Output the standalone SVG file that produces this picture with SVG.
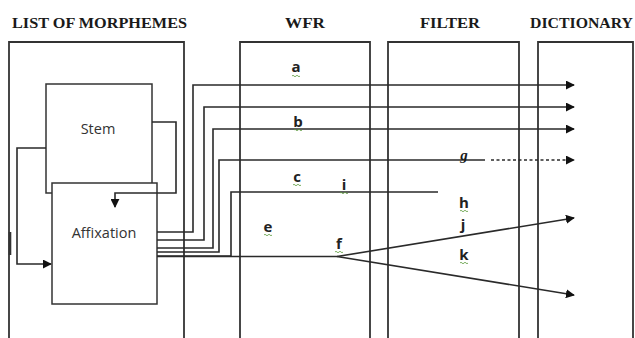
<svg xmlns="http://www.w3.org/2000/svg" width="635" height="338" viewBox="0 0 635 338">
<style>
.hdr{font-family:"Liberation Serif","Times New Roman",serif;font-weight:bold;font-size:15px;fill:#1a1a1a}
.box{fill:none;stroke:#333;stroke-width:1.8}
.wbox{fill:#fff;stroke:#333;stroke-width:1.5}
.nt{font-family:"Open Sans","Liberation Sans",sans-serif;font-size:14.5px;fill:#333}
.lb{font-family:"Open Sans","Liberation Sans",sans-serif;font-size:15px;font-weight:bold;fill:#222}
.ln{fill:none;stroke:#2a2a2a;stroke-width:1.6}
.dash{fill:none;stroke:#2a2a2a;stroke-width:1.6;stroke-dasharray:3,2.5}
.sq{fill:none;stroke:#5a9a3a;stroke-width:0.8}
</style>
<defs>
<marker id="ah" viewBox="0 0 10 10" refX="9" refY="5" markerWidth="9" markerHeight="9" markerUnits="userSpaceOnUse" orient="auto">
<path d="M0,0 L10,5 L0,10 z" fill="#111"/>
</marker>
<path id="squig" d="M-4,0 q1,-1.5 2,0 t2,0 t2,0 t2,0" class="sq"/>
</defs>

<g id="headers">
<text class="hdr" x="12" y="27.5" textLength="175" lengthAdjust="spacingAndGlyphs">LIST OF MORPHEMES</text>
<text class="hdr" x="285" y="27.5" textLength="40" lengthAdjust="spacingAndGlyphs">WFR</text>
<text class="hdr" x="420" y="27.5" textLength="60" lengthAdjust="spacingAndGlyphs">FILTER</text>
<text class="hdr" x="530" y="27.5" textLength="103" lengthAdjust="spacingAndGlyphs">DICTIONARY</text>
</g>

<g id="list-of-morphemes">
<path class="box" d="M9,345 V42 H184 V345"/>
<line x1="10" y1="232" x2="10" y2="255" stroke="#333" stroke-width="2.6"/>
</g>
<g id="wfr"><path class="box" d="M240,345 V42 H370 V345"/></g>
<g id="filter"><path class="box" d="M388,345 V42 H519 V345"/></g>
<g id="dictionary"><path class="box" d="M538,345 V42 H633 V345"/></g>

<g id="stem">
<rect class="wbox" x="46" y="84" width="106" height="109"/>
<text class="nt" x="98" y="134" text-anchor="middle">Stem</text>
</g>

<g id="affixation">
<rect class="wbox" x="52" y="183" width="105" height="121"/>
<text class="nt" x="104" y="238" text-anchor="middle">Affixation</text>
</g>

<g id="connectors">
<path class="ln" d="M152,122 H176 V193 H115 V207" marker-end="url(#ah)"/>
<path class="ln" d="M46,148 H17 V264 H51" marker-end="url(#ah)"/>
<path class="ln" d="M157,232 H193 V85 H574" marker-end="url(#ah)"/>
<path class="ln" d="M157,240 H204 V107 H574" marker-end="url(#ah)"/>
<path class="ln" d="M157,248 H213 V129 H574" marker-end="url(#ah)"/>
<path class="ln" d="M157,252 H219 V160 H485"/>
<path class="dash" d="M491,160 H574" marker-end="url(#ah)"/>
<path class="ln" d="M157,256 H231 V192 H438"/>
<path class="ln" d="M157,256.5 H337"/>
<path class="ln" d="M337,256.5 L574,218" marker-end="url(#ah)"/>
<path class="ln" d="M337,256.5 L574,295" marker-end="url(#ah)"/>
</g>

<g id="labels">
<text class="lb" x="296" y="72" text-anchor="middle">a</text>
<text class="lb" x="298" y="127" text-anchor="middle">b</text>
<text class="lb" x="297" y="182" text-anchor="middle">c</text>
<text class="lb" x="268" y="232" text-anchor="middle">e</text>
<text class="lb" x="344" y="190" text-anchor="middle">i</text>
<text class="lb" x="339" y="249" text-anchor="middle">f</text>
<text class="hdr" x="464" y="160" text-anchor="middle" font-style="italic" font-size="16">g</text>
<text class="lb" x="464" y="208" text-anchor="middle">h</text>
<text class="lb" x="463" y="230" text-anchor="middle">j</text>
<text class="lb" x="464" y="260" text-anchor="middle">k</text>
<use href="#squig" x="296" y="76"/>
<use href="#squig" x="298" y="130"/>
<use href="#squig" x="297" y="185"/>
<use href="#squig" x="268" y="235"/>
<use href="#squig" x="344" y="193"/>
<use href="#squig" x="339" y="252"/>
<use href="#squig" x="464" y="211"/>
<use href="#squig" x="464" y="263"/>
</g>
</svg>
